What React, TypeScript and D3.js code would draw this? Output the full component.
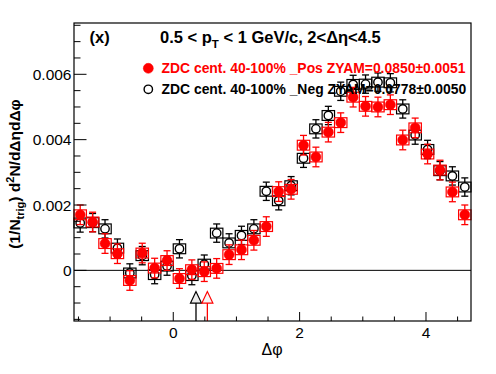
import { useEffect, useRef } from 'react';
import * as d3 from 'd3';

// 32 bins in dphi over [-pi/2, 3pi/2]
const nBins = 32;
const phiMin = -Math.PI / 2;
const phiMax = (3 * Math.PI) / 2;
const binWidth = (phiMax - phiMin) / nBins;
const binCenters = d3.range(nBins).map((i) => phiMin + (i + 0.5) * binWidth);

// ZDC cent. 40-100% _Pos (red, filled)
const posValues = [
  0.0017, 0.00148, 0.00082, 0.00051, -0.00031, 0.00053, 0.00007, 0.0003,
  -0.00025, 0.00002, -0.00004, 0.00006, 0.00048, 0.00063, 0.00092, 0.00134,
  0.00241, 0.00248, 0.00383, 0.00347, 0.00423, 0.00452, 0.0053, 0.00502,
  0.005, 0.00507, 0.00399, 0.00436, 0.00356, 0.00307, 0.0024, 0.0017,
];
// ZDC cent. 40-100% _Neg (black, open)
const negValues = [
  0.00145, 0.00146, 0.00127, 0.00068, -0.00008, 0.00045, -0.00013, 0.00013,
  0.00066, -0.00016, 0.00019, 0.00114, 0.00084, 0.00107, 0.00127, 0.00242,
  0.00213, 0.00259, 0.00343, 0.00433, 0.00474, 0.00548, 0.00569, 0.0057,
  0.00576, 0.00574, 0.00494, 0.00414, 0.0037, 0.00305, 0.00289, 0.00255,
];
const posStatErr = 0.0003;
const negStatErr = 0.00028;
const sysErr = 0.00015;

// ZYAM minimum positions (arrows)
const zyamPosPhi = 0.54;
const zyamNegPhi = 0.36;
const arrowTipY = -0.00065;

const xMajorTicks = [0, 2, 4];
const yMajorTicks = [0, 0.002, 0.004, 0.006];
const yTickLabels = ['0', '0.002', '0.004', '0.006'];

const legendEntries = [
  { label: 'ZDC cent. 40-100% _Pos ZYAM=0.0850\u00b10.0051', color: '#ff0000', filled: true },
  { label: 'ZDC cent. 40-100% _Neg ZYAM=0.0778\u00b10.0050', color: '#000000', filled: false },
];

const FONT = '"Liberation Sans", Arial, Helvetica, sans-serif';

export default function App() {
  const ref = useRef<SVGSVGElement>(null);

  useEffect(() => {
    if (!ref.current) return;
    const svg = d3.select(ref.current);
    svg.selectAll('*').remove();

    const left = 74, right = 471, top = 23, bottom = 321;
    const x = d3.scaleLinear().domain([phiMin, phiMax]).range([left, right]);
    const y = d3.scaleLinear().domain([-0.00155, 0.00757]).range([bottom, top]);

    svg.append('rect').attr('width', 496).attr('height', 374).attr('fill', '#fff');

    // zero line
    svg.append('line')
      .attr('x1', left).attr('x2', right)
      .attr('y1', y(0)).attr('y2', y(0))
      .attr('stroke', '#000').attr('stroke-width', 1);

    const drawSeries = (vals: number[], err: number, color: string, filled: boolean) => {
      const g = svg.append('g');
      const r = filled ? 5 : 4.2;
      vals.forEach((v, i) => {
        const cx = x(binCenters[i]);
        const x0 = x(binCenters[i] - binWidth / 2);
        const x1 = x(binCenters[i] + binWidth / 2);
        g.append('rect')
          .attr('x', x0).attr('width', x1 - x0)
          .attr('y', y(v + sysErr)).attr('height', y(v - sysErr) - y(v + sysErr))
          .attr('fill', 'none').attr('stroke', color).attr('stroke-width', 1.2);
        const cy = y(v);
        const yHi = y(v + err), yLo = y(v - err);
        g.append('line').attr('x1', cx).attr('x2', cx).attr('y1', yHi).attr('y2', cy - r)
          .attr('stroke', color).attr('stroke-width', 1.3);
        g.append('line').attr('x1', cx).attr('x2', cx).attr('y1', cy + r).attr('y2', yLo)
          .attr('stroke', color).attr('stroke-width', 1.3);
        [yHi, yLo].forEach((yy) => {
          g.append('line').attr('x1', cx - 3.5).attr('x2', cx + 3.5).attr('y1', yy).attr('y2', yy)
            .attr('stroke', color).attr('stroke-width', 1.3);
        });
        g.append('circle').attr('cx', cx).attr('cy', cy).attr('r', r)
          .attr('fill', filled ? color : 'none')
          .attr('stroke', color).attr('stroke-width', filled ? 0.5 : 1.4);
      });
    };
    drawSeries(negValues, negStatErr, '#000', false);
    drawSeries(posValues, posStatErr, '#ff0000', true);

    // arrows
    const drawArrow = (phi: number, color: string, fill: string) => {
      const ax = x(phi);
      const tip = y(arrowTipY);
      svg.append('line').attr('x1', ax).attr('x2', ax).attr('y1', tip + 11.5).attr('y2', bottom)
        .attr('stroke', color).attr('stroke-width', 1.3);
      svg.append('path')
        .attr('d', `M${ax},${tip} L${ax - 5.5},${tip + 11.5} L${ax + 5.5},${tip + 11.5} Z`)
        .attr('fill', fill).attr('stroke', color).attr('stroke-width', 1.2);
    };
    drawArrow(zyamNegPhi, '#000', '#ececec');
    drawArrow(zyamPosPhi, '#ff0000', '#f6f6f6');

    // frame
    svg.append('rect')
      .attr('x', left).attr('y', top).attr('width', right - left).attr('height', bottom - top)
      .attr('fill', 'none').attr('stroke', '#000').attr('stroke-width', 1.2);

    // x ticks
    const xMinor = d3.range(-1.5, phiMax, 0.5);
    xMinor.forEach((t) => {
      const major = xMajorTicks.includes(t);
      svg.append('line').attr('x1', x(t)).attr('x2', x(t))
        .attr('y1', bottom).attr('y2', bottom - (major ? 9 : 4.5))
        .attr('stroke', '#000').attr('stroke-width', 1);
    });
    xMajorTicks.forEach((t) => {
      svg.append('text').attr('x', x(t)).attr('y', 337.5)
        .attr('text-anchor', 'middle').attr('font-family', FONT).attr('font-size', 15.5)
        .text(String(t));
    });

    // y ticks
    const yMinor = d3.range(-0.0015, 0.0076, 0.0005);
    yMinor.forEach((t) => {
      const major = yMajorTicks.some((m) => Math.abs(m - t) < 1e-9);
      svg.append('line').attr('x1', left).attr('x2', left + (major ? 12.5 : 6.5))
        .attr('y1', y(t)).attr('y2', y(t))
        .attr('stroke', '#000').attr('stroke-width', 1);
    });
    yMajorTicks.forEach((t, i) => {
      svg.append('text').attr('x', 71.5).attr('y', y(t)).attr('dy', '0.36em')
        .attr('text-anchor', 'end').attr('font-family', FONT).attr('font-size', 15.5)
        .text(yTickLabels[i]);
    });

    // axis titles
    svg.append('text').attr('x', 272).attr('y', 355).attr('text-anchor', 'middle')
      .attr('font-family', FONT).attr('font-size', 16).text('\u0394\u03c6');

    const yl = svg.append('text')
      .attr('transform', 'translate(19.5,174) rotate(-90)')
      .attr('text-anchor', 'middle').attr('font-family', FONT)
      .attr('font-size', 15.5).attr('font-weight', 'bold');
    yl.append('tspan').text('(1/N');
    yl.append('tspan').attr('dy', 4).attr('font-size', 11).text('trig');
    yl.append('tspan').attr('dy', -4).text(') d');
    yl.append('tspan').attr('dy', -6).attr('font-size', 11).text('2');
    yl.append('tspan').attr('dy', 6).text('N/d\u0394\u03b7d\u0394\u03c6');

    // panel label and title
    svg.append('text').attr('x', 89.5).attr('y', 42.5)
      .attr('font-family', FONT).attr('font-size', 16.5).attr('font-weight', 'bold').text('(x)');
    const title = svg.append('text').attr('x', 160).attr('y', 43.3)
      .attr('font-family', FONT).attr('font-size', 16.5).attr('font-weight', 'bold');
    title.append('tspan').text('0.5 < p');
    title.append('tspan').attr('dy', 5).attr('font-size', 11.5).text('T');
    title.append('tspan').attr('dy', -5).text(' < 1 GeV/c, 2<\u0394\u03b7<4.5');

    // legend
    legendEntries.forEach((e, i) => {
      const ly = 68.3 + i * 21;
      svg.append('circle').attr('cx', 148.3).attr('cy', ly).attr('r', e.filled ? 5 : 4.2)
        .attr('fill', e.filled ? e.color : 'none').attr('stroke', e.color)
        .attr('stroke-width', e.filled ? 0.5 : 1.4);
      svg.append('text').attr('x', 161.5).attr('y', ly + 4.8)
        .attr('font-family', FONT).attr('font-size', 13.9).attr('font-weight', 'bold')
        .attr('fill', e.color).text(e.label);
    });
  }, []);

  return (
    <svg
      ref={ref}
      width={496}
      height={374}
      style={{ position: 'absolute', left: 0, top: 0 }}
    />
  );
}
